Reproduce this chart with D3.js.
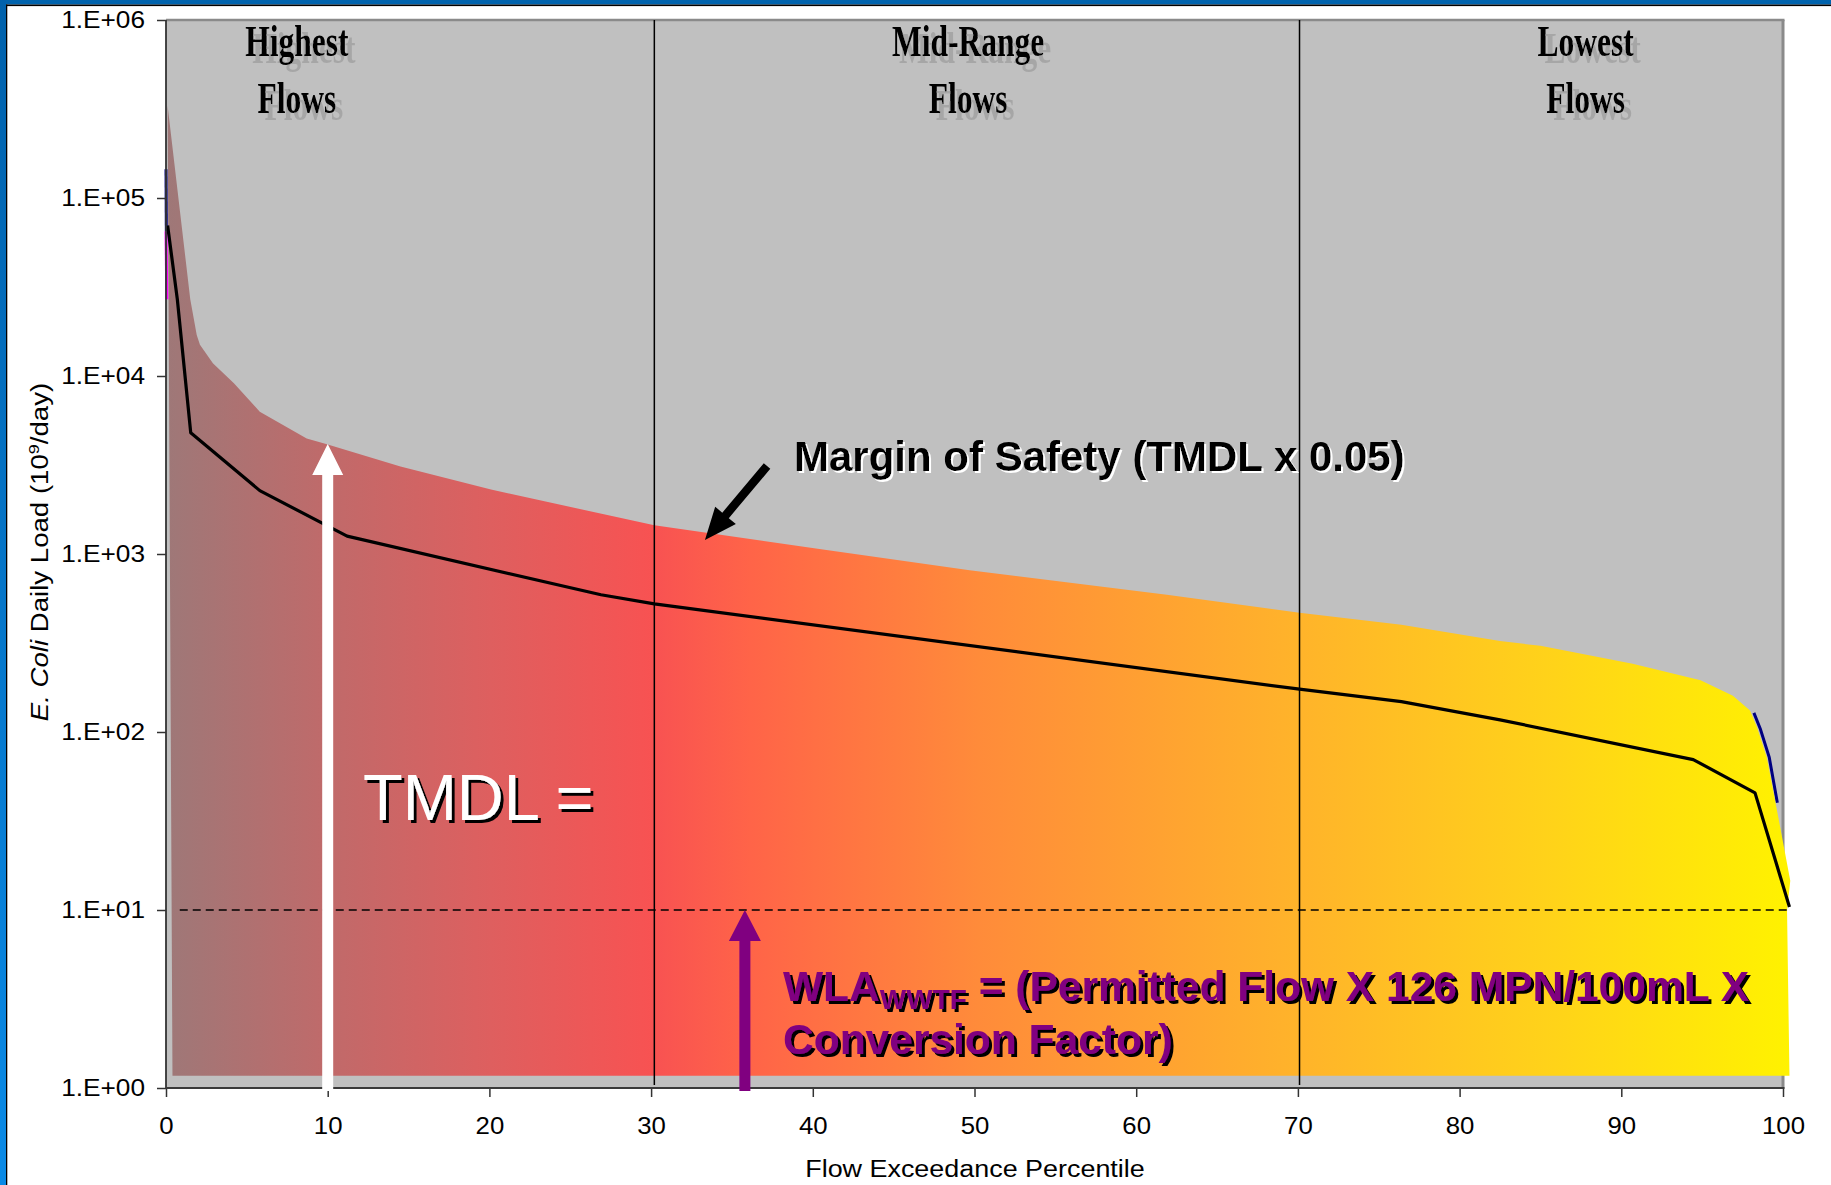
<!DOCTYPE html>
<html>
<head>
<meta charset="utf-8">
<script src="https://cdn.jsdelivr.net/npm/d3@7"></script>
<style>
  html, body { margin: 0; padding: 0; background: #ffffff; }
  svg { display: block; }
</style>
</head>
<body>
<svg id="chart" width="1831" height="1185"></svg>
<script>
// ---------------- DATA ----------------
// Upper envelope of the TMDL (filled area), flow exceedance percentile vs load (10^9/day)
const tmdlPct  = [0.1, 1.5, 1.9, 2.1, 2.9, 4.2, 5.8, 8.7, 9.9, 14.5, 20.1, 30.2, 40.3, 49.7, 61.9, 70.1, 76.4, 82.5, 85.0, 90.7, 94.9, 96.9, 97.96, 98.4, 99.0, 99.8, 100.45, 100.25];
const tmdlLoad = [330000, 27000, 17000, 15000, 11800, 9100, 6300, 4450, 4150, 3100, 2300, 1450, 1070, 810, 590, 467, 400, 324, 305, 242, 195, 160, 132, 106, 72, 30, 14.6, 9.9];
// base of the filled area (right end, left end)
const areaBasePct  = [100.4, 0.4];
const areaBaseLoad = [1.17, 1.17];

// Black load-duration line
const lineXPct  = [0.1, 0.7, 1.53, 5.8, 11.2, 26.9, 30.2, 70.1, 76.4, 82.5, 94.45, 98.27, 100.4];
const lineLoad  = [70000, 27000, 4800, 2270, 1260, 590, 525, 174, 148, 117, 70, 45.5, 10.4];

// Navy series (visible only at the extremes)
const bluePctLeft  = [0.0, 0.02];
const blueLoadLeft = [145000, 65000];
const bluePctRight  = [98.2, 98.6, 99.15, 99.65];
const blueLoadRight = [128, 104, 72, 40];

// Magenta series (visible only at far left)
const magentaPct  = [0.0, 0.05];
const magentaLoad = [65000, 27000];

// WLA (WWTF) constant load
const wlaLoad = 10;
const wlaPct  = [0.85, 100.4];

// Flow regime boundaries
const regimeBounds = [30.2, 70.1];
const regimeNames  = [["Highest", "Flows"], ["Mid-Range", "Flows"], ["Lowest", "Flows"]];
const regimeCenters = [8.1, 49.6, 87.8];

// Axis ticks
const yTickValues = [1, 10, 100, 1000, 10000, 100000, 1000000];
const yTickLabels = ["1.E+00", "1.E+01", "1.E+02", "1.E+03", "1.E+04", "1.E+05", "1.E+06"];
const xTickValues = [0, 10, 20, 30, 40, 50, 60, 70, 80, 90, 100];

// Annotation anchors (data coordinates)
const tmdlArrow = { pct: 10, tipLoad: 4150 };
const wlaArrow  = { pct: 35.8, tipLoad: 10 };
const mosArrow  = { tailPct: 37.17, tailLoad: 3120, tipPct: 33.33, tipLoad: 1200 };

// ---------------- LAYOUT ----------------
const svg = d3.select("#chart");
const L = 166, R = 1783, T = 20, B = 1088;
const x = d3.scaleLinear().domain([0, 100]).range([L, R]);
const y = d3.scaleLog().domain([1, 1e6]).range([B, T]);
const SANS = "'Liberation Sans', Arial, sans-serif";
const SERIF = "'Liberation Serif', 'Times New Roman', serif";

function stretch(sel, f) {
  sel.each(function () {
    const len = this.getComputedTextLength();
    this.setAttribute("textLength", len * f);
    this.setAttribute("lengthAdjust", "spacingAndGlyphs");
  });
}

const defs = svg.append("defs");
function shadowFilter(id, color, dx, dy, opacity) {
  const f = defs.append("filter").attr("id", id).attr("x", "-10%").attr("y", "-30%")
    .attr("width", "130%").attr("height", "170%");
  f.append("feOffset").attr("in", "SourceAlpha").attr("dx", dx).attr("dy", dy).attr("result", "off");
  f.append("feFlood").attr("flood-color", color).attr("flood-opacity", opacity).attr("result", "col");
  f.append("feComposite").attr("in", "col").attr("in2", "off").attr("operator", "in").attr("result", "sh");
  const m = f.append("feMerge");
  m.append("feMergeNode").attr("in", "sh");
  m.append("feMergeNode").attr("in", "SourceGraphic");
}
shadowFilter("shGray", "#a6a6a6", 7, 7, 1);
shadowFilter("shBlack3", "#000", 3, 3, 1);
shadowFilter("shBlack2", "#000", 2.5, 2.5, 1);
shadowFilter("shWhite2", "#fff", 2, 2, 1);

// page frame (blue slide border)
const lg = defs.append("linearGradient").attr("id", "frameGrad").attr("x1", 0).attr("y1", 0).attr("x2", 0).attr("y2", 1);
lg.append("stop").attr("offset", "0%").attr("stop-color", "#0061ab");
lg.append("stop").attr("offset", "100%").attr("stop-color", "#0a8ae6");
svg.append("rect").attr("x", 0).attr("y", 0).attr("width", 1831).attr("height", 4.5).attr("fill", "#0063ad");
svg.append("rect").attr("x", 0).attr("y", 4.5).attr("width", 1831).attr("height", 1.6).attr("fill", "#000");
svg.append("rect").attr("x", 0).attr("y", 0).attr("width", 6).attr("height", 1185).attr("fill", "url(#frameGrad)");
svg.append("rect").attr("x", 6).attr("y", 4.5).attr("width", 1.3).attr("height", 1185).attr("fill", "#000");

// plot background
svg.append("rect").attr("x", L).attr("y", T).attr("width", R - L).attr("height", B - T).attr("fill", "#c0c0c0");

// plot frame (top / right gray) drawn under the series
svg.append("line").attr("x1", L).attr("x2", R + 1.5).attr("y1", T).attr("y2", T).attr("stroke", "#8a8a8a").attr("stroke-width", 2.5);
svg.append("line").attr("x1", R).attr("x2", R).attr("y1", T).attr("y2", B).attr("stroke", "#8a8a8a").attr("stroke-width", 3);

// gradient for TMDL area
const g2 = defs.append("linearGradient").attr("id", "tmdlGrad").attr("gradientUnits", "userSpaceOnUse")
  .attr("x1", x(0)).attr("y1", 0).attr("x2", x(100.4)).attr("y2", 0);
[[0, "#9e7878"], [10, "#c06a6a"], [20, "#de5f5f"], [30, "#f85252"], [36, "#ff6448"],
 [50, "#ff8b3a"], [70, "#ffb42a"], [85, "#ffd21a"], [100, "#fff200"]]
  .forEach(([o, c]) => g2.append("stop").attr("offset", o + "%").attr("stop-color", c));

const line = d3.line().x(d => x(d[0])).y(d => y(d[1]));

// navy series (under the area)
svg.append("path").datum(bluePctLeft.map((p, i) => [p, blueLoadLeft[i]]))
  .attr("d", line).attr("fill", "none").attr("stroke", "#000080").attr("stroke-width", 3);
svg.append("path").datum(bluePctRight.map((p, i) => [p, blueLoadRight[i]]))
  .attr("d", line).attr("fill", "none").attr("stroke", "#000080").attr("stroke-width", 3);

// TMDL area
const areaPts = tmdlPct.map((p, i) => [p, tmdlLoad[i]])
  .concat(areaBasePct.map((p, i) => [p, areaBaseLoad[i]]));
svg.append("path").datum(areaPts).attr("d", d => line(d) + "Z").attr("fill", "url(#tmdlGrad)");

// magenta series
svg.append("path").datum(magentaPct.map((p, i) => [p, magentaLoad[i]]))
  .attr("d", line).attr("fill", "none").attr("stroke", "#ff00ff").attr("stroke-width", 3);

// regime boundaries
svg.selectAll(".bound").data(regimeBounds).enter().append("line")
  .attr("x1", d => x(d)).attr("x2", d => x(d)).attr("y1", T).attr("y2", B - 3)
  .attr("stroke", "#000").attr("stroke-width", 1.5);

// WLA dashed line
svg.append("line").attr("x1", x(wlaPct[0])).attr("x2", x(wlaPct[1]))
  .attr("y1", y(wlaLoad)).attr("y2", y(wlaLoad))
  .attr("stroke", "#000").attr("stroke-width", 1.6).attr("stroke-dasharray", "8,5");

// black load-duration line
svg.append("path").datum(lineXPct.map((p, i) => [p, lineLoad[i]]))
  .attr("d", line).attr("fill", "none").attr("stroke", "#000").attr("stroke-width", 3.2)
  .attr("stroke-linejoin", "round");

// axes
const yAxis = svg.append("g").attr("transform", `translate(${L},0)`)
  .call(d3.axisLeft(y).tickValues(yTickValues).tickFormat((d, i) => yTickLabels[i]).tickSize(9).tickPadding(12));
const xAxis = svg.append("g").attr("transform", `translate(0,${B})`)
  .call(d3.axisBottom(x).tickValues(xTickValues).tickFormat(d => d).tickSize(9).tickPadding(21));
[yAxis, xAxis].forEach(a => {
  a.select(".domain").remove();
  a.selectAll(".tick line").attr("stroke", "#333").attr("stroke-width", 1.5);
  a.selectAll(".tick text").attr("font-family", SANS).attr("font-size", 23).attr("fill", "#000");
});
stretch(yAxis.selectAll(".tick text"), 1.14);
stretch(xAxis.selectAll(".tick text"), 1.12);
svg.append("line").attr("x1", L).attr("x2", L).attr("y1", T).attr("y2", B + 1).attr("stroke", "#333").attr("stroke-width", 1.8);
svg.append("line").attr("x1", L).attr("x2", R + 1.5).attr("y1", B).attr("y2", B).attr("stroke", "#3a3a3a").attr("stroke-width", 2.2);

// axis titles
const yt = svg.append("text").attr("transform", "translate(48,552) rotate(-90)")
  .attr("text-anchor", "middle").attr("font-family", SANS).attr("font-size", 23).attr("fill", "#000");
yt.append("tspan").attr("font-style", "italic").text("E. Coli");
yt.append("tspan").text(" Daily Load (10");
yt.append("tspan").attr("font-size", 15).attr("dy", -9).text("9");
yt.append("tspan").attr("dy", 9).text("/day)");
stretch(yt, 1.2);

const xt = svg.append("text").attr("x", 975).attr("y", 1177).attr("text-anchor", "middle")
  .attr("font-family", SANS).attr("font-size", 23).attr("fill", "#000").text("Flow Exceedance Percentile");
stretch(xt, 1.17);

// regime labels (with faint offset shadow)
regimeNames.forEach((lines, k) => {
  lines.forEach((s, j) => {
    const t = svg.append("text").attr("x", x(regimeCenters[k])).attr("y", j === 0 ? 56 : 113)
      .attr("text-anchor", "middle").attr("font-family", SERIF).attr("font-weight", "bold")
      .attr("font-size", 45).attr("fill", "#000").attr("filter", "url(#shGray)").text(s);
    stretch(t, 0.7);
  });
});

// arrow helper
function arrowPath(x0, y0, x1, y1, sw, hl, hw) {
  const dx = x1 - x0, dy = y1 - y0, len = Math.hypot(dx, dy);
  const ux = dx / len, uy = dy / len, px = -uy, py = ux;
  const bx = x1 - ux * hl, by = y1 - uy * hl;
  const pts = [
    [x0 + px * sw / 2, y0 + py * sw / 2], [bx + px * sw / 2, by + py * sw / 2],
    [bx + px * hw / 2, by + py * hw / 2], [x1, y1],
    [bx - px * hw / 2, by - py * hw / 2], [bx - px * sw / 2, by - py * sw / 2],
    [x0 - px * sw / 2, y0 - py * sw / 2]];
  return "M" + pts.map(p => p.join(",")).join("L") + "Z";
}

// TMDL white arrow
svg.append("path").attr("d", arrowPath(x(tmdlArrow.pct), B + 3, x(tmdlArrow.pct), y(tmdlArrow.tipLoad), 11, 31, 31)).attr("fill", "#fff");
// WLA purple arrow
svg.append("path").attr("d", arrowPath(x(wlaArrow.pct), B + 3, x(wlaArrow.pct), y(wlaArrow.tipLoad), 11, 31, 32)).attr("fill", "#800080");
// Margin of safety black arrow
svg.append("path").attr("d", arrowPath(x(mosArrow.tailPct), y(mosArrow.tailLoad), x(mosArrow.tipPct), y(mosArrow.tipLoad), 8.5, 32, 27)).attr("fill", "#000");

// TMDL = text
svg.append("text").attr("x", 363).attr("y", 820).attr("font-family", SANS)
  .attr("font-size", 65).attr("fill", "#fff").attr("filter", "url(#shBlack3)").text("TMDL =");

// Margin of safety text
svg.append("text").attr("x", 794).attr("y", 471).attr("font-family", SANS)
  .attr("font-weight", "bold").attr("font-size", 42).attr("fill", "#000")
  .attr("filter", "url(#shWhite2)").text("Margin of Safety (TMDL x 0.05)");

// WLA text (two lines)
const w1 = svg.append("text").attr("x", 783).attr("y", 1001).attr("font-family", SANS)
  .attr("font-weight", "bold").attr("font-size", 42.5).attr("fill", "#800080").attr("filter", "url(#shBlack2)");
w1.append("tspan").text("WLA");
w1.append("tspan").attr("font-size", 28).attr("dy", 8).text("WWTF");
w1.append("tspan").attr("dy", -8).text(" = (Permitted Flow X 126 MPN/100mL X");
svg.append("text").attr("x", 783).attr("y", 1054).attr("font-family", SANS)
  .attr("font-weight", "bold").attr("font-size", 42.5).attr("fill", "#800080")
  .attr("filter", "url(#shBlack2)").text("Conversion Factor)");
</script>
</body>
</html>
